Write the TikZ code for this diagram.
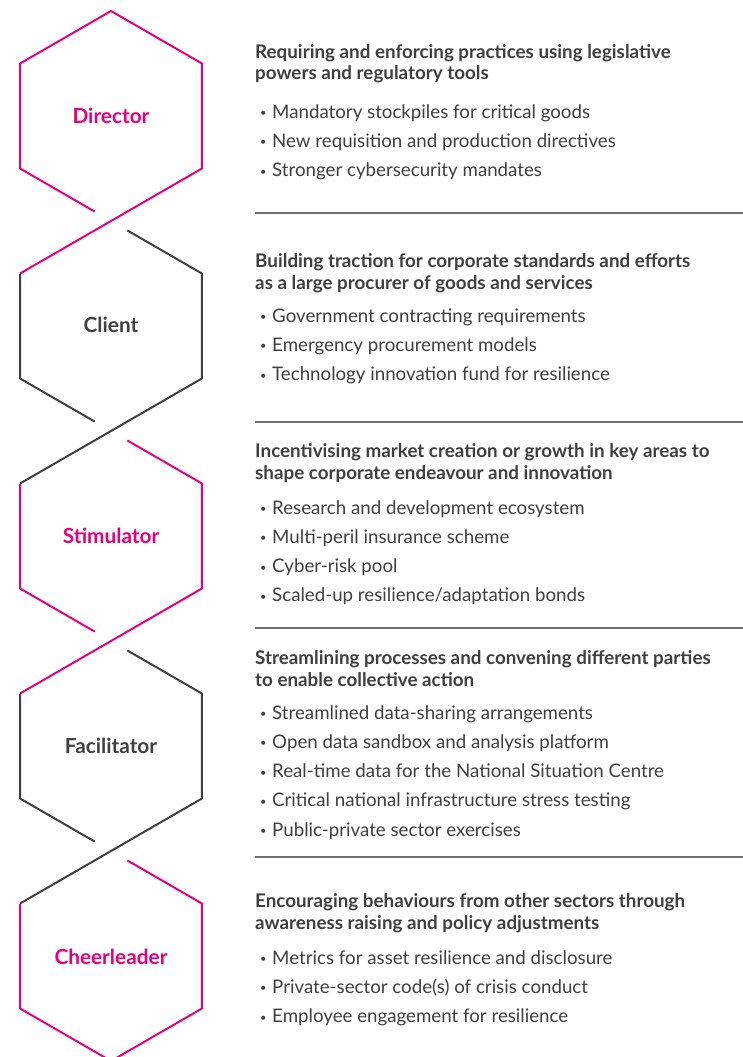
\documentclass[tikz,border=0pt]{standalone}
\usepackage{fontspec}
\setmainfont{Lato}
\usetikzlibrary{calc}
\definecolor{hexpink}{HTML}{E5007D}
\definecolor{hexdark}{HTML}{404040}
\definecolor{txtgray}{HTML}{3F3F3F}
\definecolor{rulegray}{HTML}{707070}
\begin{document}
\begin{tikzpicture}[x=1pt,y=-1pt,
  hexline/.style={line width=2pt, line join=miter},
  hexlabel/.style={inner sep=0pt, font=\fontsize{20.8}{24}\selectfont\bfseries},
  headline/.style={anchor=base west, inner sep=0pt, text=txtgray, font=\fontsize{18.8}{22}\selectfont\bfseries},
  itemline/.style={anchor=base west, inner sep=0pt, text=txtgray, font=\fontsize{18.7}{22}\selectfont},
  sepline/.style={draw=rulegray, line width=1.2pt}]
\useasboundingbox (0,0) rectangle (743,1057);

% hexagon vertices
\foreach \i in {0,...,4} {
  \coordinate (T\i)  at (111, 116+210*\i-105);
  \coordinate (UL\i) at (20.07, 116+210*\i-52.5);
  \coordinate (LL\i) at (20.07, 116+210*\i+52.5);
  \coordinate (B\i)  at (111, 116+210*\i+105);
  \coordinate (LR\i) at (201.93, 116+210*\i+52.5);
  \coordinate (UR\i) at (201.93, 116+210*\i-52.5);
}

% Director (pink)
\draw[hexline, hexpink] ($(LL0)!0.82!(B0)$) -- (LL0) -- (UL0) -- (T0) -- (UR0) -- (LR0) -- (B0) -- (UL1);
% Client (dark)
\draw[hexline, hexdark] ($(LL1)!0.82!(B1)$) -- (LL1) -- (UL1);
\draw[hexline, hexdark] ($(T1)!0.18!(UR1)$) -- (UR1) -- (LR1) -- (B1) -- (UL2);
% Stimulator (pink)
\draw[hexline, hexpink] ($(LL2)!0.82!(B2)$) -- (LL2) -- (UL2);
\draw[hexline, hexpink] ($(T2)!0.18!(UR2)$) -- (UR2) -- (LR2) -- (B2) -- (UL3);
% Facilitator (dark)
\draw[hexline, hexdark] ($(LL3)!0.82!(B3)$) -- (LL3) -- (UL3);
\draw[hexline, hexdark] ($(T3)!0.18!(UR3)$) -- (UR3) -- (LR3) -- (B3) -- (UL4);
% Cheerleader (pink)
\draw[hexline, hexpink] ($(T4)!0.18!(UR4)$) -- (UR4) -- (LR4) -- (B4) -- (LL4) -- (UL4);

% hexagon labels
\node[hexlabel, text=hexpink] (director) at (111,116) {Director};
\node[hexlabel, text=hexdark] (client) at (111,325) {Client};
\node[hexlabel, text=hexpink] (stimulator) at (111,536) {Stimulator};
\node[hexlabel, text=hexdark] (facilitator) at (111,746) {Facilitator};
\node[hexlabel, text=hexpink] (cheerleader) at (111,957) {Cheerleader};

\newcommand{\bul}{\makebox[17pt][l]{\hspace{5pt}\raisebox{1.6pt}{\fontsize{11}{11}\selectfont•}}}

% Director text
\node[headline] (dh1) at (255,59) {Requiring and enforcing practices using legislative};
\node[headline] (dh2) at (255,80) {powers and regulatory tools};
\node[itemline] (di1) at (255,118) {\bul Mandatory stockpiles for critical goods};
\node[itemline] (di2) at (255,147.3) {\bul New requisition and production directives};
\node[itemline] (di3) at (255,176.6) {\bul Stronger cybersecurity mandates};
\coordinate (s1a) at (255,213); \coordinate (s1b) at (743,213);
\draw[sepline] (s1a) -- (s1b);

% Client text
\node[headline] (ch1) at (255,267) {Building traction for corporate standards and efforts};
\node[headline] (ch2) at (255,289) {as a large procurer of goods and services};
\node[itemline] (ci1) at (255,322) {\bul Government contracting requirements};
\node[itemline] (ci2) at (255,351.3) {\bul Emergency procurement models};
\node[itemline] (ci3) at (255,380.6) {\bul Technology innovation fund for resilience};
\coordinate (s2a) at (255,422); \coordinate (s2b) at (743,422);
\draw[sepline] (s2a) -- (s2b);

% Stimulator text
\node[headline] (sh1) at (255,457) {Incentivising market creation or growth in key areas to};
\node[headline] (sh2) at (255,479) {shape corporate endeavour and innovation};
\node[itemline] (si1) at (255,514) {\bul Research and development ecosystem};
\node[itemline] (si2) at (255,543.3) {\bul Multi-peril insurance scheme};
\node[itemline] (si3) at (255,572.6) {\bul Cyber-risk pool};
\node[itemline] (si4) at (255,601.9) {\bul Scaled-up resilience/adaptation bonds};
\coordinate (s3a) at (255,628); \coordinate (s3b) at (743,628);
\draw[sepline] (s3a) -- (s3b);

% Facilitator text
\node[headline] (fh1) at (255,664) {Streamlining processes and convening different parties};
\node[headline] (fh2) at (255,686) {to enable collective action};
\node[itemline] (fi1) at (255,719) {\bul Streamlined data-sharing arrangements};
\node[itemline] (fi2) at (255,748.3) {\bul Open data sandbox and analysis platform};
\node[itemline] (fi3) at (255,777.6) {\bul Real-time data for the National Situation Centre};
\node[itemline] (fi4) at (255,806.9) {\bul Critical national infrastructure stress testing};
\node[itemline] (fi5) at (255,836.2) {\bul Public-private sector exercises};
\coordinate (s4a) at (255,857); \coordinate (s4b) at (743,857);
\draw[sepline] (s4a) -- (s4b);

% Cheerleader text
\node[headline] (eh1) at (255,907) {Encouraging behaviours from other sectors through};
\node[headline] (eh2) at (255,929) {awareness raising and policy adjustments};
\node[itemline] (ei1) at (255,964) {\bul Metrics for asset resilience and disclosure};
\node[itemline] (ei2) at (255,993.3) {\bul Private-sector code(s) of crisis conduct};
\node[itemline] (ei3) at (255,1022.6) {\bul Employee engagement for resilience};
\end{tikzpicture}
\end{document}
